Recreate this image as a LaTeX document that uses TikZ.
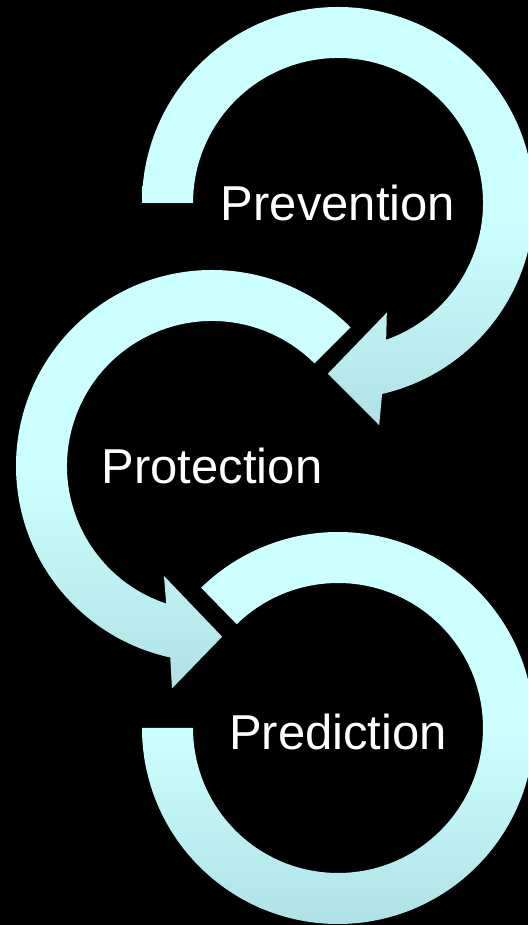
\documentclass[tikz,border=0pt]{standalone}
\usepackage{fontspec}
\setmainfont{Liberation Sans}
\definecolor{ringtop}{HTML}{CCFFFF}
\definecolor{ringbot}{HTML}{AFE2E5}
\begin{document}
\begin{tikzpicture}[x=1pt,y=1pt,
		ring/.style={top color=ringtop,bottom color=ringbot,middle color=ringtop,draw=none},
		word/.style={text=white,font=\fontsize{49}{59}\selectfont,inner sep=0pt}]
				\fill[black] (0,0) rectangle (528,925);
				\useasboundingbox (0,0) rectangle (528,925);
				\clip (0,0) rectangle (528,925);
				\coordinate (c1) at (338,722);
				\coordinate (c2) at (212,459);
				\coordinate (c3) at (338,197);
				% top ring, clockwise
				\begin{scope}[shift={(c1)}]
					\path[ring] (180:196) arc[start angle=180,end angle=-77,radius=196]
						-- (-79.5:226) -- (-93.4:171) -- (-66:120) -- (-70.6:145)
						arc[start angle=-70.6,end angle=180,radius=145] -- cycle;
				\end{scope}
				% middle ring, counterclockwise
				\begin{scope}[shift={(c2)}]
					\path[ring] (45:196) arc[start angle=45,end angle=257.7,radius=196]
						-- (259.8:226) -- (273.4:171) -- (246.4:120) -- (251.6:145)
						arc[start angle=251.6,end angle=45,radius=145] -- cycle;
				\end{scope}
				% bottom ring
				\begin{scope}[shift={(c3)}]
					\path[ring] (180:196) arc[start angle=180,end angle=494.3,radius=196]
						-- (134.3:145) arc[start angle=134.3,end angle=-180,radius=145] -- cycle;
				\end{scope}
				\node[word] (prevention) at (c1) {Prevention};
				\node[word] (protection) at (c2) {Protection};
				\node[word,yshift=-4] (prediction) at (c3) {Prediction};
\end{tikzpicture}
\end{document}
